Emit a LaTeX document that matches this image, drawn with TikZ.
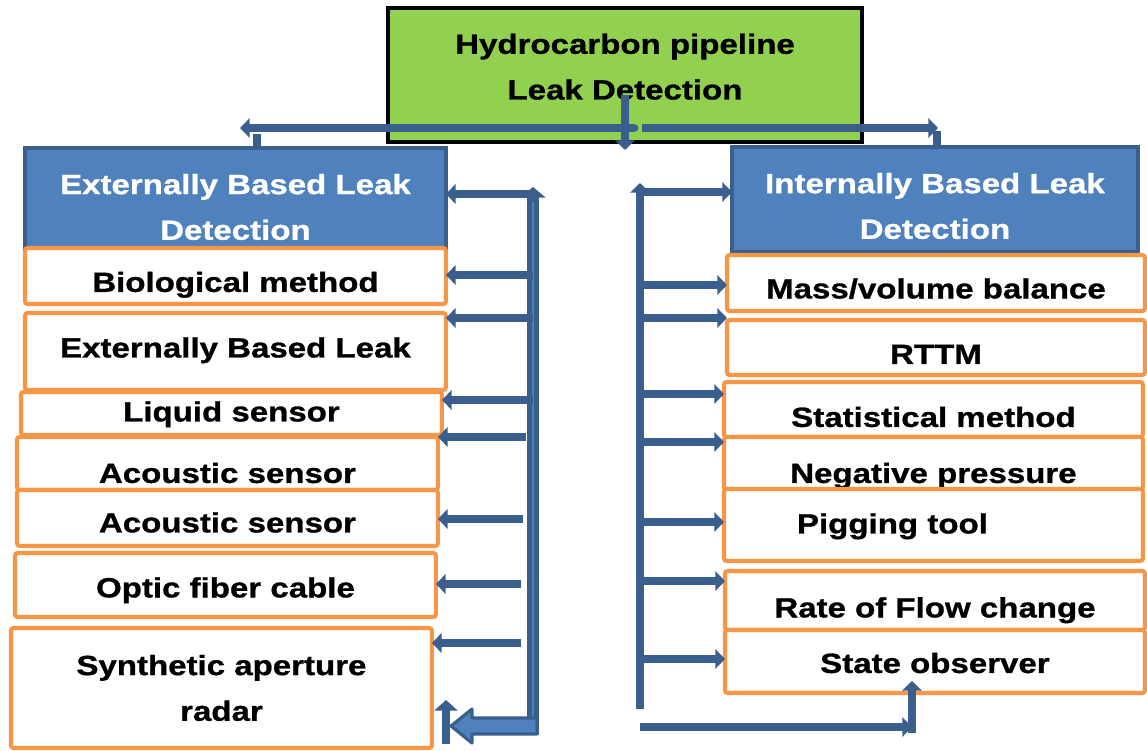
\documentclass[tikz,border=0pt]{standalone}
\usepackage{fontspec}
\setmainfont{Liberation Sans}[FakeStretch=1.19, FakeBold=1]
\usepackage{tikz}
\usetikzlibrary{positioning, arrows.meta}
\definecolor{pipeblue}{HTML}{3A5F8C}
\definecolor{headblue}{HTML}{4F81BD}
\definecolor{boxorange}{HTML}{F79646}
\definecolor{titlegreen}{HTML}{92D050}
\tikzset{
>={Triangle[length=5.5pt,width=11pt]}, % arrow heads of the connectors
pipe/.style={->, draw=pipeblue, line width=5pt}, % the blue connector arrows
boxtext/.style={font=\bfseries\fontsize{15.8}{26}\selectfont, align=center}, % text in every box
titlebox/.style={boxtext, draw=black, line width=2.6pt, fill=titlegreen, minimum width=9.48cm, minimum height=2.68cm, outer sep=0pt},
headbox/.style={boxtext, draw=pipeblue, line width=1.8pt, fill=headblue, text=white, anchor=north west, outer sep=0pt, inner sep=0pt},
itembox/.style={boxtext, draw=boxorange, line width=2.3pt, fill=white, rounded corners=1.5pt, minimum width=8.42cm, anchor=north west, outer sep=0pt, inner sep=0pt},
lift/.style={text height=#1, text depth=0pt}, % moves the text up or down in its box
}
\begin{document}
\begin{tikzpicture}[x=0.02cm, y=-0.02cm]
\useasboundingbox (0,0) rectangle (1147,751);

% boxes
\node[titlebox] (title) at (625,75) {Hydrocarbon pipeline\\ Leak Detection\rule[-9.6pt]{0pt}{0pt}};
\node[headbox, minimum width=8.42cm, minimum height=2cm] (lhead) at (25,148) {\rule{0pt}{21.7pt}Externally Based Leak\\ Detection};
\node[headbox, minimum width=8.12cm, minimum height=2.1cm] (rhead) at (732,147) {\rule{0pt}{18.9pt}Internally Based Leak\\ Detection};

\node[itembox, minimum height=1.12cm, lift=18.1pt] (bio) at (25,248) {Biological method};
\node[itembox, minimum height=1.54cm, lift=6.8pt] (ext2) at (25,313) {Externally Based Leak};
\node[itembox, minimum height=0.86cm, lift=9pt] (liq) at (21,392) {Liquid sensor};
\node[itembox, minimum height=1.06cm, lift=22.1pt] (ac1) at (17,437) {Acoustic sensor};
\node[itembox, minimum height=1.12cm, lift=16.4pt] (ac2) at (17,490) {Acoustic sensor};
\node[itembox, minimum height=1.28cm, lift=14.1pt] (opt) at (15,553) {Optic fiber cable};
\node[itembox, minimum height=2.4cm] (sar) at (11,628) {Synthetic aperture\\ radar};

\node[itembox, minimum width=8.36cm, minimum height=1.12cm, lift=17.5pt] (mass) at (727,255) {Mass/volume balance};
\node[itembox, minimum width=8.36cm, minimum height=1.10cm, lift=18.7pt] (rttm) at (727,320) {RTTM};
\node[itembox, minimum width=8.38cm, minimum height=1.10cm, lift=19.8pt] (stat) at (724,382) {Statistical method};
\node[itembox, minimum width=8.38cm, minimum height=1.06cm, lift=22.1pt] (neg) at (724,437) {Negative pressure};
\node[itembox, minimum width=8.38cm, minimum height=1.44cm, lift=9.6pt, inner xsep=1.46cm, text width=5.46cm, align=left] (pig) at (724,489) {Pigging tool};
\node[itembox, minimum width=8.4cm, minimum height=1.18cm, lift=19.2pt] (rate) at (725,571) {Rate of Flow change};
\node[itembox, minimum width=8.4cm, minimum height=1.26cm, lift=13pt] (state) at (725,630) {State observer};

% split below the title
\coordinate (tdrop) at (625,95);
\coordinate (tl) at (634,128);
\coordinate (tlend) at (240,128);
\coordinate (tr) at (642,128);
\coordinate (trend) at (938,128);
\coordinate (lstub) at (257,134);
\coordinate (rstub) at (937,131);
\draw[pipe, line cap=round] (tl) -- (tlend);
\draw[pipe] (tr) -- (trend);
\draw[pipe, -] (lstub) -- (lstub |- lhead.north);
\draw[pipe, -] (rstub) -- (rstub |- rhead.north);
\draw[pipe, shorten >=-0.16cm] (tdrop) -- (tdrop |- title.south);

% left ladder
\coordinate (lbt) at (533,187);
\coordinate (lbb) at (533,735);
\draw[pipe, line width=6.8pt, -{Triangle[length=6pt,width=14pt]}] (lbb) -- (lbt);
\draw[headblue, line width=0.8pt, shorten <=0.1cm, shorten >=0.3cm] (lbb) -- (lbt);
\coordinate (lhtop) at (533,194);
\draw[pipe] (lhtop) -- (lhtop -| lhead.east);
\foreach \y/\b in {275/bio, 318/ext2, 400/liq}
  {\coordinate (l\b) at (533,\y);
   \draw[pipe] (l\b) -- (l\b -| \b.east);}
\foreach \y/\x/\b in {437/526/ac1, 519/523/ac2, 584/521/opt, 643/521/sar}
  {\coordinate (l\b) at (\x,\y);
   \draw[pipe] (l\b) -- (l\b -| \b.east);}

% block arrow at the bottom
\coordinate (lblock) at (537,726);
\filldraw[fill=headblue, draw=pipeblue, line width=1.8pt, line join=round] (lblock) ++(0,-8) -- ++(-65,0) -- ++(0,-9) -- ++(-21,17) -- ++(21,17) -- ++(0,-9) -- ++(65,0) -- cycle;
\coordinate (sarup) at (446,744);
\draw[pipe, -{Triangle[length=6pt,width=13pt]}] (sarup) -- ++(0,-44);

% right ladder
\coordinate (rbt) at (640,183);
\coordinate (rbb) at (640,709);
\draw[pipe] (rbb) -- (rbt);
\foreach \y/\b in {192/rhead, 285/mass, 318/rttm, 394/stat, 442/neg, 522/pig, 581/rate, 659/state}
  {\coordinate (r\b) at (640,\y);
   \draw[pipe] (r\b) -- (r\b -| \b.west);}

% back up to the last box
\coordinate (rbot) at (640,727);
\coordinate (elbow) at (912,727);
\draw[pipe] (rbot) -- (elbow);
\draw[pipe, shorten <=-0.12cm, shorten >=-0.24cm] (elbow) -- (elbow |- state.south);
\end{tikzpicture}
\end{document}
